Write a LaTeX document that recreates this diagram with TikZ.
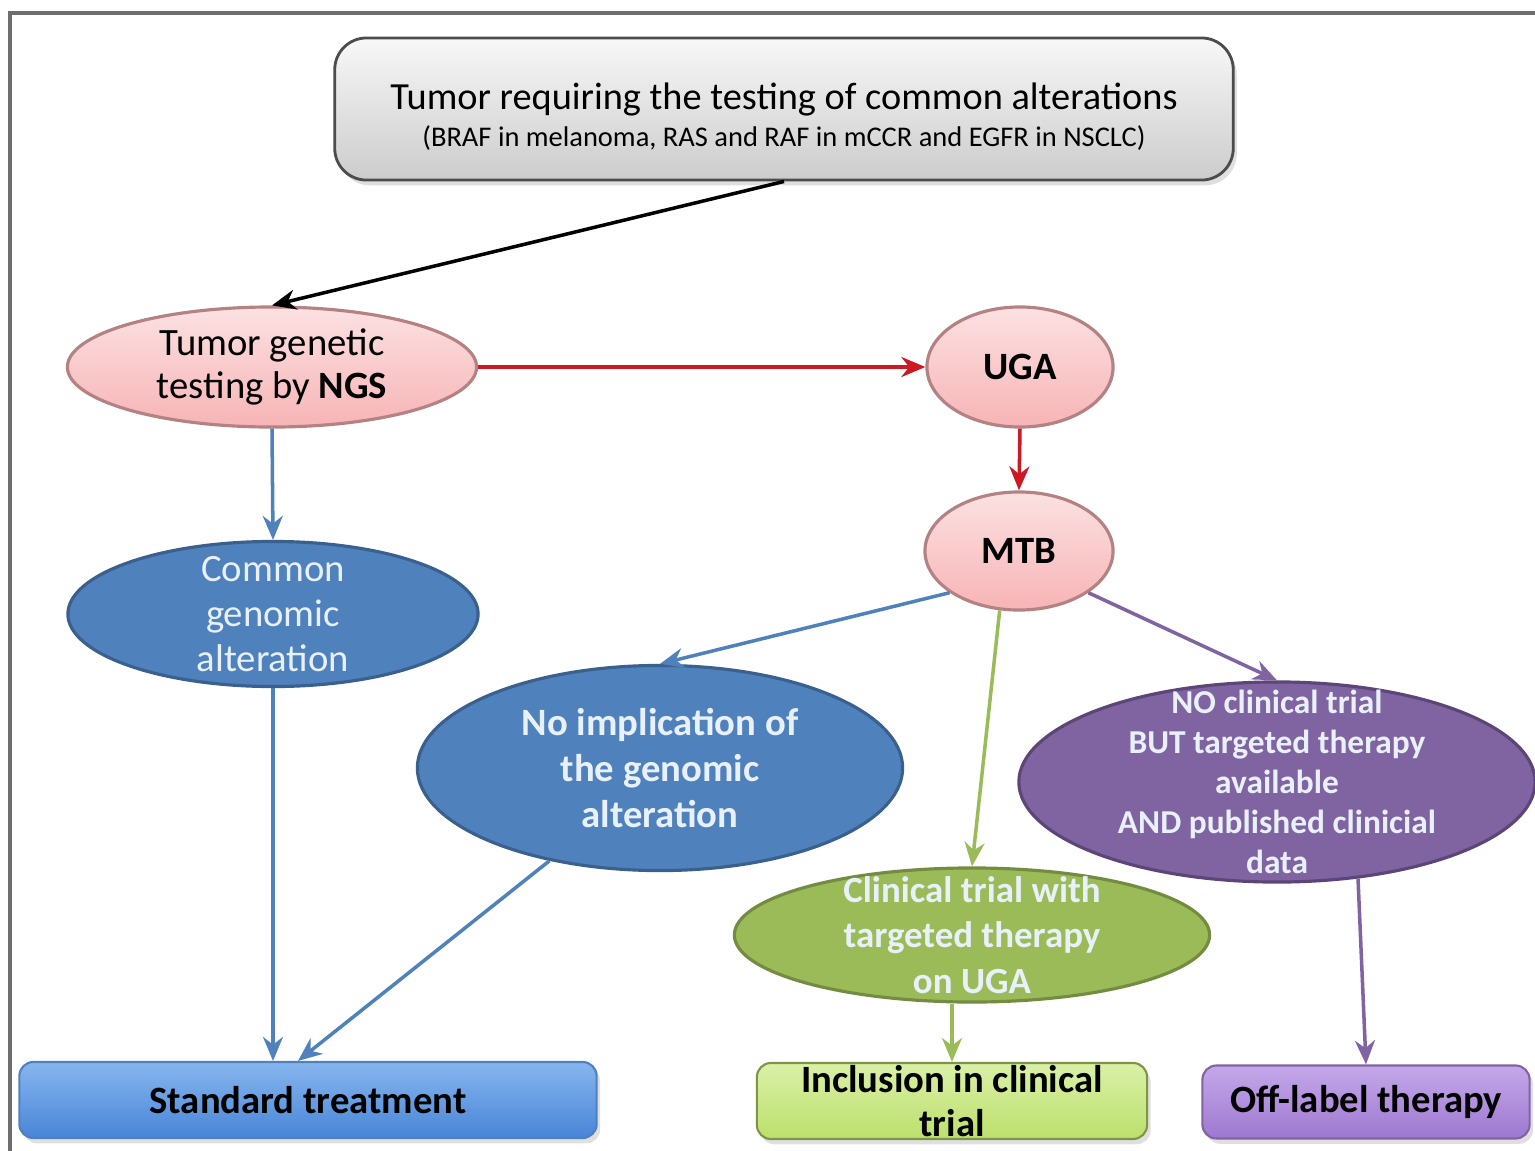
\documentclass[tikz,border=0pt]{standalone}
\usepackage{fontspec}
\setmainfont{Carlito}
\usepackage{xcolor}
\usepackage{tikz}
\usetikzlibrary{arrows.meta,calc,shapes.geometric,shadows}

\definecolor{frameGray}{RGB}{110,110,110}
\definecolor{pinkFill}{RGB}{247,180,182}
\definecolor{pinkLine}{RGB}{180,130,130}
\definecolor{ugaRed}{RGB}{205,25,35}
\definecolor{steelBlue}{RGB}{79,129,189}
\definecolor{steelLine}{RGB}{58,96,142}
\definecolor{oliveGreen}{RGB}{155,187,89}
\definecolor{oliveLine}{RGB}{115,140,65}
\definecolor{mtbPurple}{RGB}{128,100,162}
\definecolor{purpleLine}{RGB}{92,70,120}
\definecolor{softText}{RGB}{232,240,250}
\definecolor{stdTop}{RGB}{135,182,238}
\definecolor{stdBottom}{RGB}{72,133,215}
\definecolor{inclTop}{RGB}{218,240,168}
\definecolor{inclBottom}{RGB}{188,224,108}
\definecolor{offTop}{RGB}{196,168,234}
\definecolor{offBottom}{RGB}{158,120,208}

\begin{document}
\begin{tikzpicture}[x=0.01cm,y=-0.01cm,
    oval/.style={ellipse,draw,line width=0.9pt,inner sep=-1cm,align=center},
    pinkoval/.style={oval,draw=pinkLine,top color=pinkFill!40,bottom color=pinkFill,
      font=\fontsize{11}{12.4}\selectfont},
    blueoval/.style={oval,draw=steelLine,fill=steelBlue,text=softText},
    greenoval/.style={oval,draw=oliveLine,fill=oliveGreen,text=softText},
    purpleoval/.style={oval,draw=purpleLine,fill=mtbPurple,text=softText},
    endbox/.style={rectangle,rounded corners=4pt,draw,line width=0.6pt,align=center,inner ysep=-5pt,
      font=\bfseries\fontsize{11}{12.6}\selectfont,
      drop shadow={opacity=0.25,shadow xshift=1pt,shadow yshift=-1.5pt}},
    link/.style={line width=1pt,-{Stealth[length=2.4mm,width=2mm]}}]
    \useasboundingbox (0,0) rectangle (1535,1151);
    % Frame
    \draw[frameGray,line width=1.1pt] (10,1151) -- (10,13) -- (1535,13);
    % Top box
    \node[rectangle,rounded corners=9pt,draw=black!70,line width=0.8pt,top color=gray!6,bottom color=gray!40,
      minimum width=8.98cm,minimum height=1.42cm,align=center,
      drop shadow={opacity=0.25,shadow xshift=1pt,shadow yshift=-1.5pt}] (top) at (784,109)
      {{\fontsize{10.9}{13}\selectfont\rule{0pt}{12pt}Tumor requiring the testing of common alterations}\\[-1.5pt]
       {\fontsize{8.1}{10}\selectfont (BRAF in melanoma, RAS and RAF in mCCR and EGFR in NSCLC)}};
    % Pink ellipses
    \node[pinkoval,minimum width=4.09cm,minimum height=1.2cm] (ngs) at (272,367)
      {Tumor genetic\\testing by \textbf{NGS}};
    \node[pinkoval,minimum width=1.86cm,minimum height=1.2cm,font=\bfseries\fontsize{11}{12.4}\selectfont] (uga) at (1020,367) {UGA};
    \node[pinkoval,minimum width=1.88cm,minimum height=1.18cm,font=\bfseries\fontsize{11}{12.4}\selectfont] (mtb) at (1019,551) {MTB};
    % Outcome ellipses
    \node[blueoval,minimum width=4.1cm,minimum height=1.45cm,font=\fontsize{11}{12.8}\selectfont] (common) at (273,614)
      {Common\\genomic\\alteration};
    \node[blueoval,minimum width=4.85cm,minimum height=2.05cm,font=\bfseries\fontsize{11}{13}\selectfont] (noimpl) at (660,768)
      {No implication of\\the genomic\\alteration};
    \node[greenoval,minimum width=4.75cm,minimum height=1.34cm,font=\bfseries\fontsize{10.5}{13}\selectfont] (trial) at (972,935)
      {Clinical trial with\\targeted therapy\\on UGA};
    \node[purpleoval,minimum width=5.16cm,minimum height=2cm,font=\bfseries\fontsize{9.5}{11.4}\selectfont] (offtrial) at (1277,782)
      {NO clinical trial\\BUT targeted therapy\\available\\AND published clinicial\\data};
    % Final boxes
    \node[endbox,draw=steelBlue,top color=stdTop,bottom color=stdBottom,
      minimum width=5.77cm,minimum height=0.76cm] (std) at (308,1100) {Standard treatment};
    \node[endbox,draw=oliveGreen!80!black,top color=inclTop,bottom color=inclBottom,
      minimum width=3.9cm,minimum height=0.76cm,font=\bfseries\fontsize{11}{12.6}\selectfont] (incl) at (952,1101)
      {Inclusion in clinical\\trial};
    \node[endbox,draw=mtbPurple,top color=offTop,bottom color=offBottom,
      minimum width=3.27cm,minimum height=0.73cm] (offl) at (1366,1102) {Off-label therapy};
    % Connectors
    \draw[link,black] (top.south) -- (ngs.north);
    \draw[link,ugaRed] (ngs.east) -- (uga.west);
    \draw[link,ugaRed] (uga.south) -- (mtb.north);
    \draw[link,steelBlue] (ngs.south) -- (common.north);
    \draw[link,steelBlue] (common.south) -- (common.south |- std.north);
    \draw[link,steelBlue] (mtb.211) -- (noimpl.north);
    \draw[link,steelBlue] (noimpl.220) -- ($(std.north)+(-10,0)$);
    \draw[link,oliveGreen] (mtb.252) -- (trial.north);
    \draw[link,oliveGreen] (trial.south -| incl.north) -- (incl.north);
    \draw[link,mtbPurple] (mtb.329) -- (offtrial.north);
    \draw[link,mtbPurple] (offtrial.310) -- (offl.north);
\end{tikzpicture}
\end{document}
